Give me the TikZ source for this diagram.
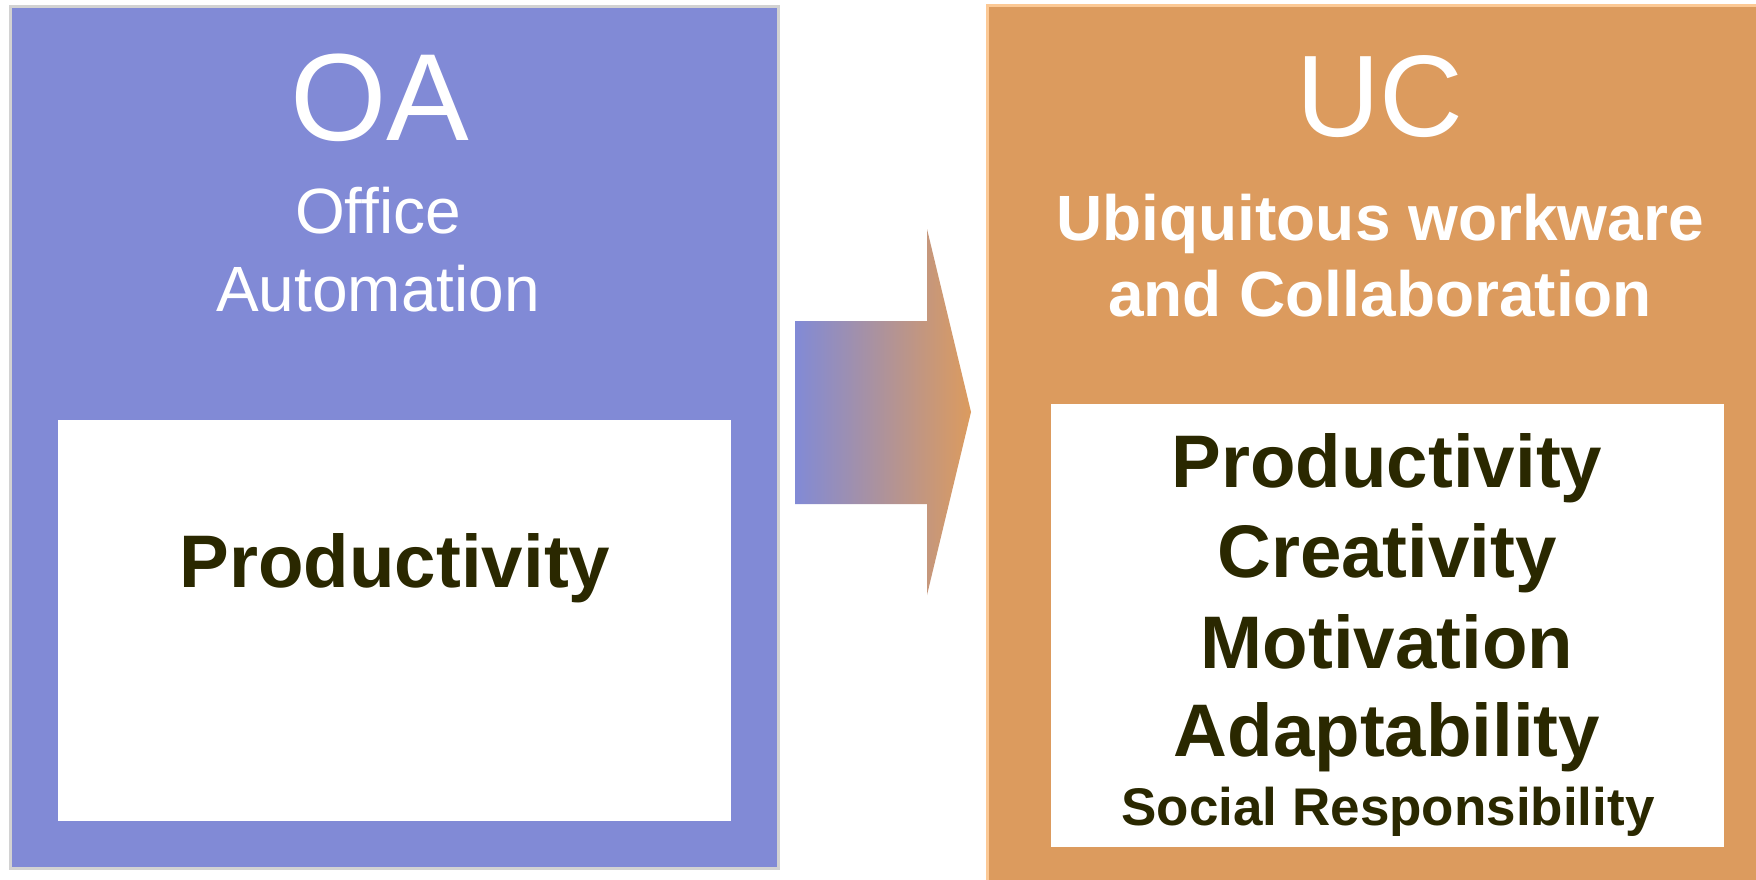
\documentclass[tikz,border=0pt]{standalone}
\usepackage{fontspec}
\setmainfont{Liberation Sans}
\definecolor{oablue}{HTML}{818AD6}
\definecolor{ucorange}{HTML}{DC9B5E}
\definecolor{oaborder}{HTML}{D2D2D2}
\definecolor{ucborder}{HTML}{FCC995}
\definecolor{darktext}{HTML}{2A2800}
\begin{document}
\begin{tikzpicture}[x=1pt,y=-1pt,
  txt/.style={anchor=base,inner sep=0pt,outer sep=0pt},
  whitetitle/.style={txt,text=white},
  item/.style={txt,text=darktext,font=\bfseries\fontsize{74.5}{74.5}\selectfont},
]
\useasboundingbox (0,0) rectangle (1756,880);
\fill[white] (0,0) rectangle (1756,880);
% left box
\fill[oaborder] (9,5) rectangle (780,870);
\fill[oablue] (12,8) rectangle (777,867);
\fill[white] (58,420) rectangle (731,821);
% right box
\fill[ucborder] (986,4) rectangle (1760,884);
\fill[ucorange] (989,7) rectangle (1760,884);
\fill[white] (1051,404) rectangle (1724,847);
% arrow
\shade[left color=oablue,right color=ucorange,shading angle=90]
  (795,321) -- (927,321) -- (927,229) -- (971,412) -- (927,595) -- (927,504) -- (795,504) -- cycle;
% left texts
\node[whitetitle,font=\fontsize{124}{124}\selectfont] (oa) at (380,140) {OA};
\node[whitetitle,font=\fontsize{64}{64}\selectfont] (office) at (378,233) {Office};
\node[whitetitle,font=\fontsize{64}{64}\selectfont] (automation) at (378,311) {Automation};
\node[item] (prodL) at (395,587) {Productivity};
% right texts
\node[whitetitle,font=\fontsize{116}{116}\selectfont] (uc) at (1380,137) {UC};
\node[whitetitle,font=\bfseries\fontsize{64}{64}\selectfont] (ubi) at (1380,240) {Ubiquitous workware};
\node[whitetitle,font=\bfseries\fontsize{64}{64}\selectfont] (collab) at (1380,316) {and Collaboration};
\node[item] (prodR) at (1387,487) {Productivity};
\node[item] (creat) at (1387,577) {Creativity};
\node[item] (motiv) at (1387,668) {Motivation};
\node[item] (adapt) at (1387,756) {Adaptability};
\node[txt,text=darktext,font=\bfseries\fontsize{53}{53}\selectfont] (social) at (1388,825) {Social Responsibility};
\end{tikzpicture}
\end{document}
